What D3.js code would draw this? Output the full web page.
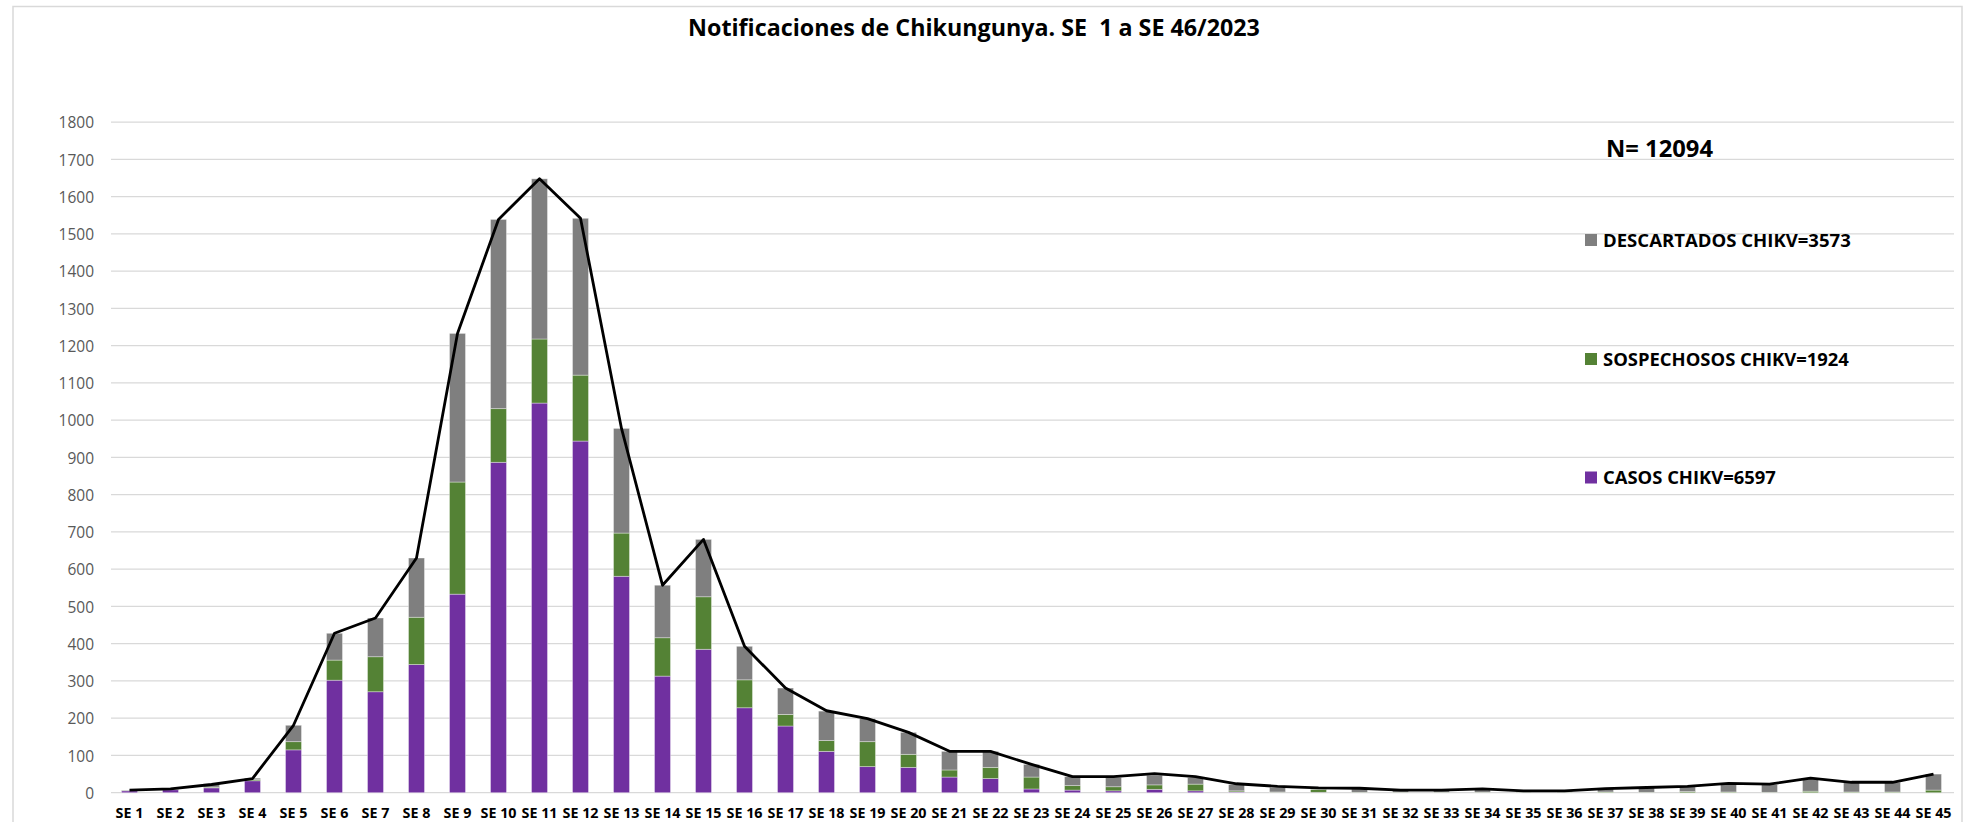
<!DOCTYPE html>
<html><head><meta charset="utf-8">
<script src="https://cdn.jsdelivr.net/npm/d3@7"></script>
<style>body{margin:0;background:#fff} svg{display:block}</style>
</head><body><svg id="c" width="1975" height="822"></svg>
<script>
const categorias = ["SE 1","SE 2","SE 3","SE 4","SE 5","SE 6","SE 7","SE 8","SE 9","SE 10","SE 11","SE 12","SE 13","SE 14","SE 15","SE 16","SE 17","SE 18","SE 19","SE 20","SE 21","SE 22","SE 23","SE 24","SE 25","SE 26","SE 27","SE 28","SE 29","SE 30","SE 31","SE 32","SE 33","SE 34","SE 35","SE 36","SE 37","SE 38","SE 39","SE 40","SE 41","SE 42","SE 43","SE 44","SE 45"];
const casos       = [5,8,13,32,115,302,271,344,533,887,1046,944,581,313,385,228,179,111,70,68,42,38,10,7,5,9,5,2,1,1,0,0,0,0,0,0,0,0,0,0,0,0,0,0,0];
const sospechosos = [1,1,2,3,22,54,94,127,301,144,172,177,116,103,141,75,31,29,67,35,19,30,32,12,11,12,18,3,1,8,1,1,1,1,1,1,2,1,3,2,1,4,2,2,7];
const descartados = [1,1,9,4,44,72,104,159,399,508,430,421,281,141,154,90,71,79,62,59,50,43,34,24,25,26,18,17,12,2,9,5,5,8,3,3,8,12,13,22,21,34,26,26,43];
const totales     = [7,10,22,38,181,428,469,630,1233,1539,1648,1542,978,557,680,393,281,220,199,162,111,111,76,43,43,51,43,24,17,13,12,7,7,10,5,5,11,14,17,25,23,39,28,28,50];
const yTicks = [0,100,200,300,400,500,600,700,800,900,1000,1100,1200,1300,1400,1500,1600,1700,1800];
const titulo = "Notificaciones de Chikungunya. SE  1 a SE 46/2023";
const nTotal = "N= 12094";
const serieNombres = ["CASOS CHIKV=6597","SOSPECHOSOS CHIKV=1924","DESCARTADOS CHIKV=3573"];
const serieColores = ["#7030A0","#548235","#7F7F7F"];

const svg = d3.select("#c");
const FONT = "'Open Sans', 'Liberation Sans', sans-serif";

// chart border
svg.append("rect").attr("x",13).attr("y",6.5).attr("width",1949).attr("height",900)
  .attr("fill","#fff").attr("stroke","#d9d9d9").attr("stroke-width",1.5);

const x = d3.scaleBand().domain(categorias).range([109,1954]).paddingInner(0.61).paddingOuter(0.305);
const y = d3.scaleLinear().domain([0,1800]).range([792.7,122.2]);

// gridlines
svg.append("g").selectAll("line").data(yTicks).join("line")
  .attr("x1",111).attr("x2",1954)
  .attr("y1",d=>y(d)).attr("y2",d=>y(d))
  .attr("stroke","#d9d9d9").attr("stroke-width",1.3);

// y axis labels
const yAxis = d3.axisLeft(y).tickValues(yTicks).tickSize(0).tickPadding(0).tickFormat(d3.format("d"));
const gy = svg.append("g").attr("transform","translate(94,0)").call(yAxis);
gy.select(".domain").remove();
gy.selectAll("text").attr("font-family",FONT).attr("font-size",15.5).attr("fill","#595959").attr("dy","0.36em");

// x axis labels
const xAxis = d3.axisBottom(x).tickSize(0).tickPadding(0);
const gx = svg.append("g").attr("transform","translate(0,792.7)").call(xAxis);
gx.select(".domain").remove();
gx.selectAll("text").attr("font-family",FONT).attr("font-size",14.3).attr("font-weight","bold")
  .attr("fill","#000").attr("y",25.8).attr("dy",0);

// stacked bars
const rows = categorias.map((c,i)=>({cat:c, casos:casos[i], sospechosos:sospechosos[i], descartados:descartados[i]}));
const keys = ["casos","sospechosos","descartados"];
const stack = d3.stack().keys(keys)(rows);
svg.append("g").selectAll("g").data(stack).join("g")
  .attr("fill",(d,i)=>serieColores[i])
  .selectAll("rect").data(d=>d).join("rect")
  .attr("x",d=>x(d.data.cat))
  .attr("width",x.bandwidth())
  .attr("y",d=>y(d[1]))
  .attr("height",d=>Math.max(0,y(d[0])-y(d[1])))
  .attr("stroke","rgba(255,255,255,0.45)").attr("stroke-width",0.8);

// total line
const line = d3.line().x((d,i)=>x(categorias[i])+x.bandwidth()/2).y(d=>y(d));
svg.append("path").datum(totales).attr("d",line)
  .attr("fill","none").attr("stroke","#000").attr("stroke-width",2.8).attr("stroke-linejoin","round");

function fit(t, w){
  const cur = parseFloat(t.attr("font-size"));
  const len = t.node().getComputedTextLength();
  t.attr("font-size", cur*w/len);
  return cur*w/len;
}

// title
const tt = svg.append("text").text(titulo).attr("x",974).attr("text-anchor","middle")
  .attr("font-family",FONT).attr("font-weight","bold").attr("font-size",22).attr("fill","#000")
  .style("white-space","pre");
const ts = fit(tt,572);
tt.attr("y",28+0.36*ts);

// N
const nt = svg.append("text").text(nTotal).attr("x",1606)
  .attr("font-family",FONT).attr("font-weight","bold").attr("font-size",24).attr("fill","#000");
const ns = fit(nt,107);
nt.attr("y",148+0.36*ns);

// legend
const legY = [477.5, 359, 240];
const legW = [173, 246, 248];
serieNombres.forEach((name,i)=>{
  svg.append("rect").attr("x",1585).attr("y",legY[i]-6).attr("width",12).attr("height",12).attr("fill",serieColores[i]);
  const t = svg.append("text").text(name).attr("x",1603)
    .attr("font-family",FONT).attr("font-weight","bold").attr("font-size",20).attr("fill","#000");
  const s = fit(t,legW[i]);
  t.attr("y",legY[i]+0.36*s);
});
</script>
</body></html>
